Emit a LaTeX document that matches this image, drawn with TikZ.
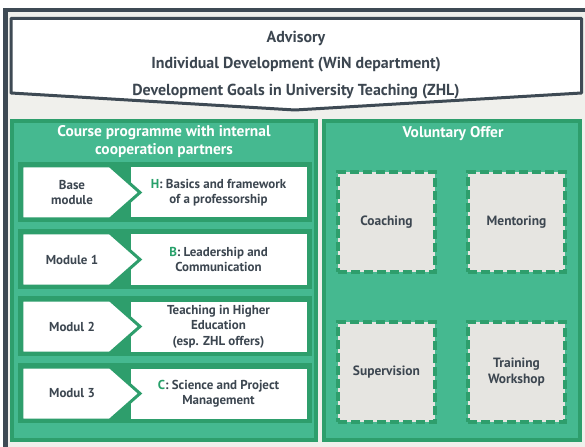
\documentclass[tikz,border=0pt]{standalone}
\usepackage{fontspec}
\setmainfont{PT Sans}
\usetikzlibrary{calc,positioning}

\definecolor{framegray}{HTML}{3E4A54}
\definecolor{bggray}{HTML}{F0F0EC}
\definecolor{panelgreen}{HTML}{45B990}
\definecolor{darkgreen}{HTML}{2E9E6C}
\definecolor{boxgray}{HTML}{E6E5E1}
\definecolor{textgray}{HTML}{3C4650}
\definecolor{lettergreen}{HTML}{27A06A}

\tikzset{
  chevron/.style={draw=framegray,fill=white,line width=3bp,line join=round},
  advtext/.style={text=textgray,font=\fontsize{16}{18}\selectfont\bfseries},
  panel/.style={fill=panelgreen,draw=darkgreen,line width=4bp},
  headline/.style={text=white,font=\fontsize{15.5}{18}\selectfont\bfseries,align=center},
  band/.style={fill=darkgreen,minimum width=294bp,minimum height=60bp,inner sep=0pt},
  modbox/.style={draw=darkgreen,fill=white,line width=3bp,outer sep=0pt,inner sep=0pt,
    minimum width=179bp,minimum height=53bp,align=center,text=textgray,
    font=\fontsize{13}{15.5}\selectfont\bfseries},
  tagshape/.style={draw=darkgreen,fill=white,line width=3bp},
  modtag/.style={inner sep=0pt,align=center,text=textgray,font=\fontsize{13}{16}\selectfont\bfseries},
  offer/.style={fill=boxgray,minimum width=97bp,minimum height=100bp,inner sep=0pt,outer sep=0pt,
    align=center,text=textgray,font=\fontsize{13.5}{16}\selectfont\bfseries,
    preaction={draw=bggray,line width=4bp},
    draw=darkgreen,line width=4bp,dash pattern=on 9bp off 4bp},
}

\begin{document}
\begin{tikzpicture}[x=1bp,y=-1bp]
  \useasboundingbox (0,0) rectangle (585,447);
  % frame and background
  \fill[white] (0,0) rectangle (585,447);
  \fill[framegray] (3,8) rectangle (585,447);
  \fill[bggray] (8,12) rectangle (585,447);

  % advisory
  \draw[chevron] (11,18.5) -- (581.5,18.5) -- (581.5,93) -- (295,110) -- (11,93) -- cycle;
  \node[advtext] (adv) at (296,38) {Advisory};
  \node[advtext] (indiv) at (296,65) {Individual Development (WiN department)};
  \node[advtext] (goals) at (296,92) {Development Goals in University Teaching (ZHL)};

  % course programme
  \draw[panel] (12,121) rectangle (316,440);
  \node[headline] (course) at (164,142) {Course programme with internal\\cooperation partners};

  \node[band] (row1) at (165,192) {};
  \node[modbox] (mod1) at (218.5,192.5) {\textcolor{lettergreen}{H}: Basics and framework\\of a professorship};
  \draw[tagshape] ($(mod1.north west)+(-107,0)$) -- ($(mod1.north west)+(-19,0)$) -- ($(mod1.west)+(11,0)$)
    -- ($(mod1.south west)+(-19,0)$) -- ($(mod1.south west)+(-107,0)$) -- cycle;
  \node[modtag] (tag1) at ($(mod1.west)+(-57,0)$) {Base\\module};

  \node[band] (row2) at (165,259) {};
  \node[modbox] (mod2) at (218.5,259.5) {\textcolor{lettergreen}{B}: Leadership and\\Communication};
  \draw[tagshape] ($(mod2.north west)+(-107,0)$) -- ($(mod2.north west)+(-19,0)$) -- ($(mod2.west)+(11,0)$)
    -- ($(mod2.south west)+(-19,0)$) -- ($(mod2.south west)+(-107,0)$) -- cycle;
  \node[modtag] (tag2) at ($(mod2.west)+(-57,0)$) {Module 1};

  \node[band] (row3) at (165,326) {};
  \node[modbox] (mod3) at (218.5,326.5) {Teaching in Higher\\Education\\(esp. ZHL offers)};
  \draw[tagshape] ($(mod3.north west)+(-107,0)$) -- ($(mod3.north west)+(-19,0)$) -- ($(mod3.west)+(11,0)$)
    -- ($(mod3.south west)+(-19,0)$) -- ($(mod3.south west)+(-107,0)$) -- cycle;
  \node[modtag] (tag3) at ($(mod3.west)+(-57,0)$) {Modul 2};

  \node[band] (row4) at (165,393) {};
  \node[modbox] (mod4) at (218.5,393.5) {\textcolor{lettergreen}{C}: Science and Project\\Management};
  \draw[tagshape] ($(mod4.north west)+(-107,0)$) -- ($(mod4.north west)+(-19,0)$) -- ($(mod4.west)+(11,0)$)
    -- ($(mod4.south west)+(-19,0)$) -- ($(mod4.south west)+(-107,0)$) -- cycle;
  \node[modtag] (tag4) at ($(mod4.west)+(-57,0)$) {Modul 3};

  % voluntary offer
  \draw[panel] (324,121) rectangle (580,440);
  \node[headline] (vol) at (453,134) {Voluntary Offer};
  \node[offer] (coach) at (386.5,222) {Coaching};
  \node[offer] (mentor) at (516.5,222) {Mentoring};
  \node[offer] (superv) at (386.5,372) {Supervision};
  \node[offer] (train) at (516.5,372) {Training\\Workshop};
\end{tikzpicture}
\end{document}
